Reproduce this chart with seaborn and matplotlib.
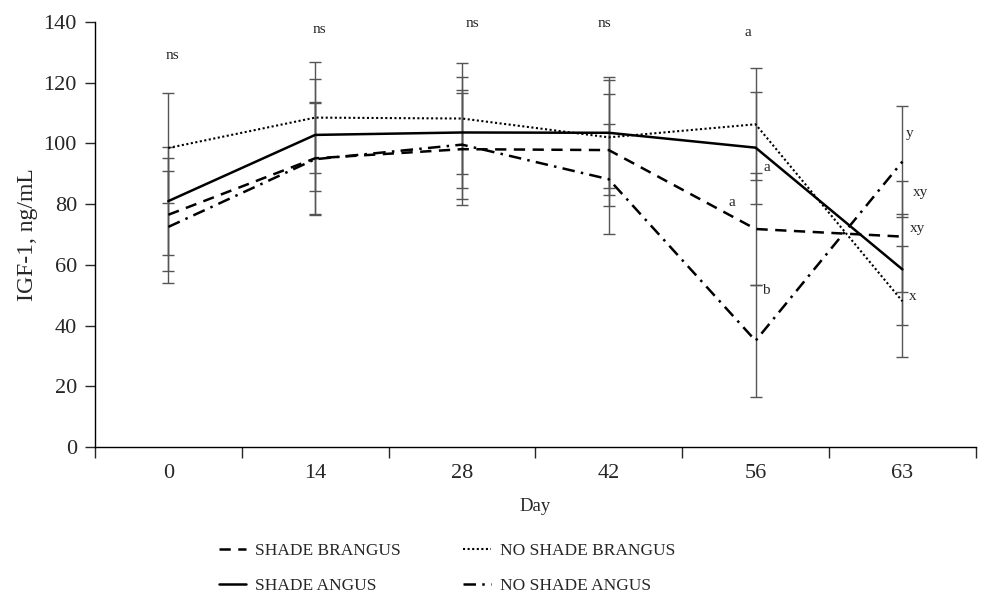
import numpy as np
import pandas as pd
import matplotlib
matplotlib.use("Agg")
import matplotlib.pyplot as plt
from matplotlib.ticker import FixedLocator
import seaborn as sns

# values (IGF-1, ng/mL), error bars are +/- SD
days = ["0", "14", "28", "42", "56", "63"]

shade_brangus = [76.5, 95.1, 98.1, 97.8, 71.8, 69.3]
shade_angus = [81.0, 102.8, 103.6, 103.5, 98.6, 58.5]
no_shade_brangus = [98.5, 108.5, 108.2, 102.0, 106.3, 48.0]
no_shade_angus = [72.5, 94.8, 99.6, 88.2, 35.0, 94.0]

shade_brangus_sd = [18.6, 18.4, 18.4, 18.5, 18.4, 18.3]
shade_angus_sd = [17.9, 18.4, 18.4, 18.3, 18.4, 18.2]
no_shade_brangus_sd = [18.1, 18.2, 18.2, 19.0, 18.4, 18.3]
no_shade_angus_sd = [18.4, 18.4, 18.0, 18.2, 18.5, 18.3]

series = ["SHADE BRANGUS", "SHADE ANGUS", "NO SHADE BRANGUS", "NO SHADE ANGUS"]

# significance letters: (label, day index offset, y)
letters = [("ns", 0.03, 129.0), ("ns", 1.03, 137.6), ("ns", 2.07, 139.6),
           ("ns", 2.97, 139.6), ("a", 3.95, 136.5),
           ("a", 4.08, 91.9), ("a", 3.84, 80.5), ("b", 4.07, 51.5),
           ("y", 5.05, 103.4), ("xy", 5.12, 83.7), ("xy", 5.10, 72.1),
           ("x", 5.07, 49.7)]

means = [shade_brangus, shade_angus, no_shade_brangus, no_shade_angus]
sds = [shade_brangus_sd, shade_angus_sd, no_shade_brangus_sd, no_shade_angus_sd]

rows = []
for name, m, s in zip(series, means, sds):
    for i, d in enumerate(days):
        rows.append({"pos": i, "Day": d, "group": name, "IGF": m[i], "sd": s[i]})
df = pd.DataFrame(rows)

sns.set_theme(style="ticks")
plt.rcParams['font.family'] = ['Liberation Serif', 'DejaVu Serif']

fig = plt.figure(figsize=(9.82, 5.94), dpi=100)
ax = fig.add_axes([0.0967, 0.2475, 0.897, 0.7155])

dash_map = {"SHADE BRANGUS": (4.5, 3),
            "SHADE ANGUS": "",
            "NO SHADE BRANGUS": (1, 1.2),
            "NO SHADE ANGUS": (5, 2.5, 1, 2.5)}
width_map = {"SHADE BRANGUS": 1.8, "SHADE ANGUS": 1.8,
             "NO SHADE BRANGUS": 1.5, "NO SHADE ANGUS": 1.8}

# error bars underneath
for name in series:
    sub = df[df.group == name]
    ax.errorbar(sub["pos"], sub["IGF"], yerr=sub["sd"], fmt="none",
                ecolor="#555555", elinewidth=1.0, capsize=4, capthick=1.0,
                zorder=1)

for name in series:
    sub = df[df.group == name]
    sns.lineplot(data=sub, x="pos", y="IGF", color="black",
                 linewidth=width_map[name], dashes=False, ax=ax,
                 label=name, zorder=3, legend=False)
    line = ax.lines[-1]
    if dash_map[name]:
        line.set_dashes(dash_map[name])

for txt, xo, yv in letters:
    ax.text(xo, yv, txt, ha="center", va="center", fontsize=11)

ax.set_xlim(-0.5, 5.5)
ax.set_ylim(0, 140)
ax.set_yticks(np.arange(0, 141, 20))
ax.set_xticks(range(len(days)))
ax.set_xticklabels(days)
ax.xaxis.set_minor_locator(FixedLocator(np.arange(-0.5, 5.6, 1)))
ax.tick_params(axis="x", which="major", length=0, labelsize=16, pad=12)
ax.tick_params(axis="x", which="minor", length=8, width=1, direction="out")
ax.tick_params(axis="y", length=7, width=1, labelsize=16, pad=6)
for sp in ["top", "right"]:
    ax.spines[sp].set_visible(False)
for sp in ["left", "bottom"]:
    ax.spines[sp].set_linewidth(1.0)
    ax.spines[sp].set_color("black")

ax.set_xlabel("Day", fontsize=13.5, labelpad=11)
ax.set_ylabel("IGF-1, ng/mL", fontsize=17, labelpad=4)

handles = ax.lines[-4:]
fig.legend(handles, series, loc="upper center", bbox_to_anchor=(0.455, 0.113),
           ncol=2, frameon=False, fontsize=12.5, handlelength=1.6,
           columnspacing=3.6, labelspacing=1.1, handletextpad=0.5)

fig.savefig("out.png", dpi=100)
